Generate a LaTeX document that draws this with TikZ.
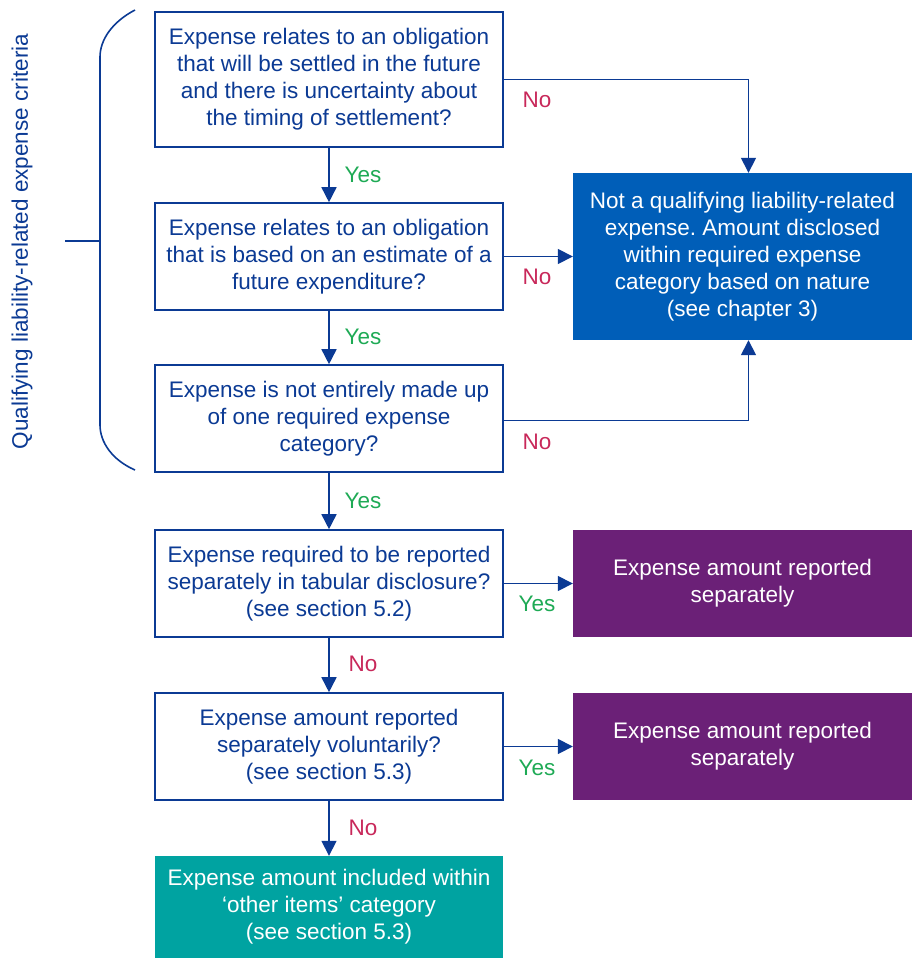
\documentclass[tikz,border=0pt]{standalone}
\usepackage{fontspec}
\setmainfont{Liberation Sans}
\usepackage{xcolor}
\usetikzlibrary{arrows.meta, positioning}
\frenchspacing

\definecolor{kdark}{HTML}{0B3A94}
\definecolor{kblue}{HTML}{005EB8}
\definecolor{kpurple}{HTML}{6B2077}
\definecolor{kteal}{HTML}{00A3A1}
\definecolor{kno}{HTML}{C8285A}
\definecolor{kyes}{HTML}{1EAA55}

\tikzset{
    question/.style={draw=kdark, line width=1.6pt, fill=white, text=kdark,
        align=center, inner sep=0pt, minimum width=348pt},
    outcome/.style={text=white, align=center, inner sep=0pt, minimum width=339pt},
    arr/.style={kdark, line width=1.6pt, -{Triangle[length=15pt,width=15pt]}},
    nolab/.style={text=kno},
    yeslab/.style={text=kyes}
}

\begin{document}
\begin{tikzpicture}[x=1pt, y=-1pt, font=\fontsize{22.5}{27}\selectfont]
    \useasboundingbox (0,0) rectangle (912,958);

    % Criteria questions
    \node[question, minimum height=135pt] (q1) at (329,79.5)
        {Expense relates to an obligation\\that will be settled in the future\\and there is uncertainty about\\the timing of settlement?};
    \node[question, minimum height=107pt] (q2) at (329,256.5)
        {Expense relates to an obligation\\that is based on an estimate of a\\future expenditure?};
    \node[question, minimum height=107pt] (q3) at (329,418.5)
        {Expense is not entirely made up\\of one required expense\\category?};

    % Disclosure questions
    \node[question, minimum height=107pt] (q4) at (329,583.5)
        {Expense required to be reported\\separately in tabular disclosure?\\(see section 5.2)};
    \node[question, minimum height=107pt] (q5) at (329,746.5)
        {Expense amount reported\\separately voluntarily?\\(see section 5.3)};

    % Outcomes
    \node[outcome, fill=kblue, minimum height=167pt] (nq) at (742.5,256.5)
        {Not a qualifying liability-related\\expense. Amount disclosed\\within required expense\\category based on nature\\(see chapter 3)};
    \node[outcome, fill=kpurple, minimum height=107pt] (r1) at (742.5,583.5)
        {Expense amount reported\\separately};
    \node[outcome, fill=kpurple, minimum height=107pt] (r2) at (742.5,746.5)
        {Expense amount reported\\separately};
    \node[outcome, fill=kteal, minimum width=348pt, minimum height=102pt] (other) at (329,907)
        {Expense amount included within\\‘other items’ category\\(see section 5.3)};

    % Connectors
    \draw[arr] (q1) -- (q2);
    \draw[arr] (q2) -- (q3);
    \draw[arr] (q3) -- (q4);
    \draw[arr] (q4) -- (q5);
    \draw[arr] (q5) -- (other);
    \draw[arr] (q1.east) -| ([xshift=6pt]nq.north);
    \draw[arr] (q2.east) -- (nq.west);
    \draw[arr] ([yshift=-2pt]q3.east) -| ([xshift=6pt]nq.south);
    \draw[arr] (q4.east) -- (r1.west);
    \draw[arr] (q5.east) -- (r2.west);

    % Labels
    \node[nolab] (no1) at (537,100) {No};
    \node[nolab] (no2) at (537,277) {No};
    \node[nolab] (no3) at (537,442) {No};
    \node[nolab] (no4) at (363,664) {No};
    \node[nolab] (no5) at (363,828) {No};
    \node[yeslab] (yes1) at (363,175) {Yes};
    \node[yeslab] (yes2) at (363,337) {Yes};
    \node[yeslab] (yes3) at (363,501) {Yes};
    \node[yeslab] (yes4) at (537,604) {Yes};
    \node[yeslab] (yes5) at (537,768) {Yes};

    % Brace around the criteria
    \draw[kdark, line width=1.6pt] (135,10) .. controls (112,22) and (100,40) .. (100,57)
        -- (100,425) .. controls (100,442) and (112,460) .. (135,470);
    \draw[kdark, line width=1.6pt] (65,241) -- (100,241);
    \node[text=kdark, rotate=90] (crit) at (22,241.5) {Qualifying liability-related expense criteria};
\end{tikzpicture}
\end{document}
